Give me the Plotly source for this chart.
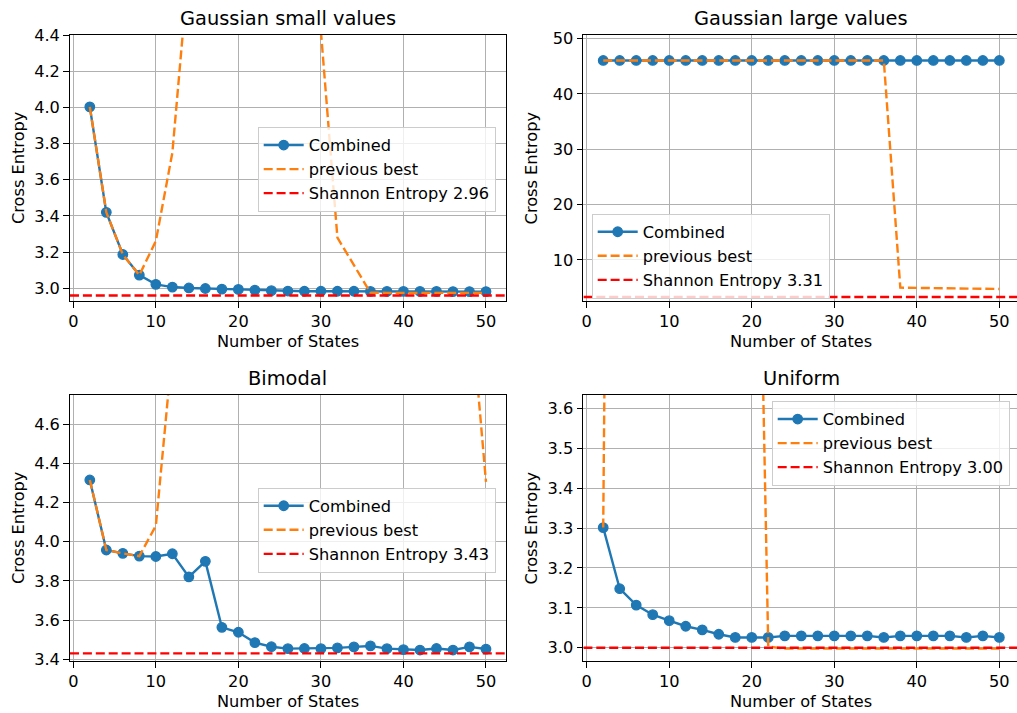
import plotly.graph_objects as go

# Number of hidden states evaluated for every distribution
states = [2, 4, 6, 8, 10, 12, 14, 16, 18, 20, 22, 24, 26, 28, 30,
          32, 34, 36, 38, 40, 42, 44, 46, 48, 50]

# Gaussian small values
gs_combined = [4.003, 3.420, 3.187, 3.073, 3.022, 3.007, 3.002, 2.999, 2.996, 2.994,
               2.990, 2.987, 2.985, 2.984, 2.984, 2.984, 2.984, 2.983, 2.983, 2.983,
               2.983, 2.983, 2.982, 2.982, 2.982]
gs_previous = [4.003, 3.420, 3.187, 3.073, 3.261, 3.749, 4.79, 5.60, 6.30, 6.90,
               7.20, 6.90, 6.00, 5.10, 4.42, 3.280, 3.128, 2.976, 2.975, 2.975,
               2.975, 2.975, 2.975, 2.975, 2.975]
gs_shannon = 2.96

# Gaussian large values
gl_combined = [46.05] * 25
gl_previous = [46.05, 46.05, 46.05, 46.05, 46.05, 46.05, 46.05, 46.05, 46.05, 46.05,
               46.05, 46.05, 46.05, 46.05, 46.05, 46.05, 46.05, 46.05, 5.00, 4.96,
               4.92, 4.88, 4.84, 4.80, 4.76]
gl_shannon = 3.31

# Bimodal
bm_combined = [4.316, 3.958, 3.941, 3.927, 3.925, 3.939, 3.821, 3.900, 3.563, 3.538,
               3.485, 3.464, 3.454, 3.455, 3.454, 3.458, 3.463, 3.468, 3.454, 3.449,
               3.447, 3.455, 3.447, 3.463, 3.452]
bm_previous = [4.316, 3.958, 3.941, 3.927, 4.082, 4.98, 6.10, 7.00, 7.60, 8.00,
               8.20, 8.10, 7.90, 7.60, 7.40, 7.10, 6.90, 6.60, 6.40, 6.20,
               6.00, 5.80, 5.50, 5.28, 4.306]
bm_shannon = 3.43

# Uniform
un_combined = [3.301, 3.148, 3.107, 3.083, 3.068, 3.054, 3.045, 3.034, 3.026, 3.026,
               3.026, 3.030, 3.030, 3.030, 3.030, 3.030, 3.030, 3.026, 3.030, 3.030,
               3.030, 3.030, 3.026, 3.030, 3.026]
un_previous = [3.301, 8.10, 8.60, 8.90, 9.00, 8.80, 8.40, 7.80, 6.90, 5.10,
               3.003, 2.998, 2.998, 2.998, 2.998, 2.998, 2.998, 2.998, 2.998, 2.998,
               2.998, 2.998, 2.998, 2.998, 2.998]
un_shannon = 3.00

titles = ["Gaussian small values", "Gaussian large values", "Bimodal", "Uniform"]

W, H = 1017, 713
BLUE, ORANGE, RED = "#1f77b4", "#ff7f0e", "#ff0000"
FONT = "DejaVu Sans"
FS = 16.2
TITLE_FS = 19.4
LW = 2.4
DASH = "9px,3.9px"

# panel geometry in pixels: (left, right, top, bottom)
boxes = [(70.0, 505.8, 35, 301), (583.4, 1017.0, 35, 301),
         (70.0, 505.8, 395, 661), (583.4, 1017.0, 395, 661)]
xranges = [[-0.4, 52.4], [-0.4, 52.14], [-0.4, 52.4], [-0.4, 52.14]]
yranges = [[2.93, 4.40], [2.59, 50.65], [3.391, 4.75], [2.967, 3.633]]
ydticks = [0.2, 10, 0.2, 0.1]
yfmt = [".1f", "d", ".1f", ".1f"]
legend_pos = [(257.7, 127.0), (591.7, 213.7), (257.7, 487.7), (771.7, 401.0)]

panels = [
    (gs_combined, gs_previous, gs_shannon),
    (gl_combined, gl_previous, gl_shannon),
    (bm_combined, bm_previous, bm_shannon),
    (un_combined, un_previous, un_shannon),
]

fig = go.Figure()
layout = dict(
    width=W, height=H,
    margin=dict(l=0, r=0, t=0, b=0, autoexpand=False),
    paper_bgcolor="white", plot_bgcolor="white",
    font=dict(family=FONT, size=FS, color="black"),
    showlegend=True,
)
annotations = []

for i, (comb, prev, shannon) in enumerate(panels):
    k = "" if i == 0 else str(i + 1)
    xa, ya = "x" + k, "y" + k
    leg = "legend" + k
    x0, x1, yt, yb = boxes[i]

    fig.add_trace(go.Scatter(
        x=states, y=comb, mode="lines+markers", name="Combined",
        line=dict(color=BLUE, width=LW),
        marker=dict(color=BLUE, size=9.5, line=dict(color=BLUE, width=1.3)),
        xaxis=xa, yaxis=ya, legend=leg))
    fig.add_trace(go.Scatter(
        x=states, y=prev, mode="lines", name="previous best",
        line=dict(color=ORANGE, width=LW, dash=DASH),
        xaxis=xa, yaxis=ya, legend=leg))
    fig.add_trace(go.Scatter(
        x=[xranges[i][0], xranges[i][1]], y=[shannon, shannon], mode="lines",
        name=f"Shannon Entropy {shannon:.2f}",
        line=dict(color=RED, width=LW, dash=DASH),
        xaxis=xa, yaxis=ya, legend=leg))

    right_panel = i % 2 == 1
    common = dict(
        showgrid=True, gridcolor="#b0b0b0", gridwidth=1.3, zeroline=False,
        showline=True, linecolor="black", linewidth=1.3,
        ticks="outside", ticklen=5.7, tickwidth=1.3, tickcolor="black",
        tickfont=dict(family=FONT, size=FS, color="black"),
        automargin=False,
    )
    layout["xaxis" + k] = dict(
        domain=[x0 / W, x1 / W], range=xranges[i], anchor=ya,
        tickmode="linear", tick0=0, dtick=10, mirror=True, **common)
    layout["yaxis" + k] = dict(
        domain=[1 - yb / H, 1 - yt / H], range=yranges[i], anchor=xa,
        tickmode="linear", tick0=0, dtick=ydticks[i], tickformat=yfmt[i],
        mirror=not right_panel, **common)
    lx, ly = legend_pos[i]
    layout[leg] = dict(
        x=lx / W, y=1 - ly / H, xanchor="left", yanchor="top",
        xref="paper", yref="paper", itemwidth=40,
        bgcolor="rgba(255,255,255,0.8)", bordercolor="#cccccc", borderwidth=1,
        font=dict(family=FONT, size=FS, color="black"),
    )

    cx = (x0 + 505.8) / 2 if not right_panel else (583.4 + 1019.2) / 2
    annotations.append(dict(
        text=titles[i], x=cx / W, y=1 - (yt - 17) / H, xref="paper", yref="paper",
        showarrow=False, xanchor="center", yanchor="middle",
        font=dict(family=FONT, size=TITLE_FS, color="black")))
    annotations.append(dict(
        text="Number of States", x=cx / W, y=1 - (yb + 40) / H,
        xref="paper", yref="paper", showarrow=False,
        xanchor="center", yanchor="middle",
        font=dict(family=FONT, size=FS, color="black")))
    annotations.append(dict(
        text="Cross Entropy", x=(x0 - 52) / W, y=1 - (yt + yb) / 2 / H,
        xref="paper", yref="paper", showarrow=False, textangle=-90,
        xanchor="center", yanchor="middle",
        font=dict(family=FONT, size=FS, color="black")))

layout["annotations"] = annotations
fig.update_layout(**layout)
fig.write_html("out.html")
